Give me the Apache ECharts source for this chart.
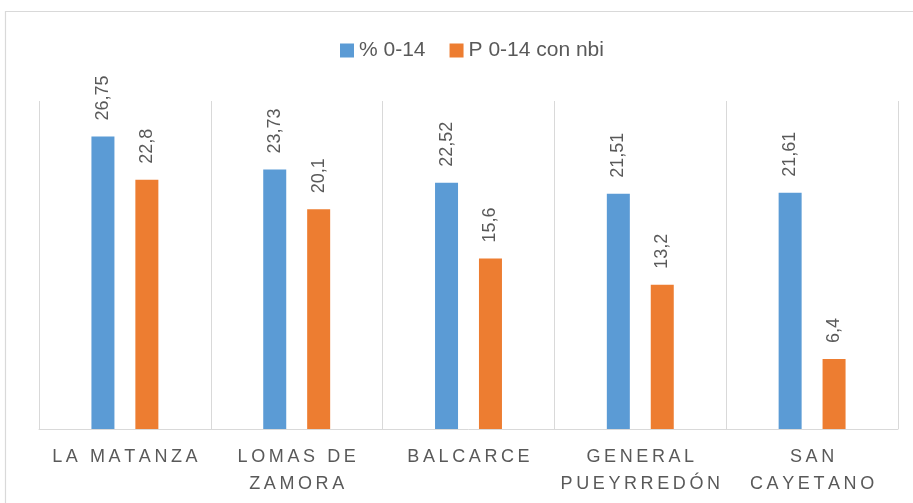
<!DOCTYPE html>
<html>
<head>
<meta charset="utf-8">
<script src="https://cdn.jsdelivr.net/npm/echarts@6/dist/echarts.min.js"></script>
<style>
html,body{margin:0;padding:0;background:#fff;}
#chart{width:913px;height:503px;}
</style>
</head>
<body>
<div id="chart"></div>
<script>
var categories = ['LA MATANZA', 'LOMAS DE\nZAMORA', 'BALCARCE', 'GENERAL\nPUEYRREDÓN', 'SAN\nCAYETANO'];
var seriesNames = ['% 0-14', 'P 0-14 con nbi'];
var pct014 = [26.75, 23.73, 22.52, 21.51, 21.61];
var p014nbi = [22.8, 20.1, 15.6, 13.2, 6.4];

var FONT = '"Liberation Sans", Arial, sans-serif';
var GREY = '#595959';
var LINE = '#d9d9d9';

function spaced(v) {
  return v.split('\n').map(function (line) {
    return line.split('').join('\u2009');
  }).join('\n');
}
function comma(p) {
  return String(p.value).replace('.', ',');
}

var chart = echarts.init(document.getElementById('chart'), null, {renderer: 'canvas'});
var labelCfg = {
  show: true,
  position: 'top',
  rotate: 90,
  align: 'left',
  verticalAlign: 'middle',
  distance: 16,
  color: GREY,
  fontSize: 18,
  fontFamily: FONT,
  formatter: comma
};
chart.setOption({
  animation: false,
  backgroundColor: '#ffffff',
  graphic: [{
    type: 'rect',
    shape: {x: 5.5, y: 11.5, width: 1000, height: 1000},
    style: {fill: 'none', stroke: LINE, lineWidth: 1.2},
    silent: true
  }],
  legend: {
    left: 340,
    top: 40,
    padding: 0,
    itemWidth: 14,
    itemHeight: 14,
    itemGap: 24,
    icon: 'rect',
    textStyle: {color: GREY, fontSize: 21, fontFamily: FONT},
    data: seriesNames
  },
  grid: {left: 39, right: 15, top: 101, bottom: 74, containLabel: false},
  xAxis: {
    type: 'category',
    data: categories,
    axisLine: {show: true, lineStyle: {color: LINE, width: 1}},
    axisTick: {show: false},
    splitLine: {show: true, showMinLine: true, showMaxLine: true, lineStyle: {color: LINE, width: 1}},
    axisLabel: {
      interval: 0,
      margin: 15,
      color: GREY,
      fontSize: 18,
      lineHeight: 27,
      fontFamily: FONT,
      formatter: spaced
    }
  },
  yAxis: {
    type: 'value',
    min: 0,
    max: 30,
    axisLine: {show: false},
    axisTick: {show: false},
    axisLabel: {show: false},
    splitLine: {show: false}
  },
  series: [
    {
      name: seriesNames[0],
      type: 'bar',
      data: pct014,
      barWidth: 23,
      barGap: '91%',
      itemStyle: {color: '#5b9bd5'},
      label: labelCfg
    },
    {
      name: seriesNames[1],
      type: 'bar',
      data: p014nbi,
      barWidth: 23,
      barGap: '91%',
      itemStyle: {color: '#ed7d31'},
      label: labelCfg
    }
  ]
});
</script>
</body>
</html>
